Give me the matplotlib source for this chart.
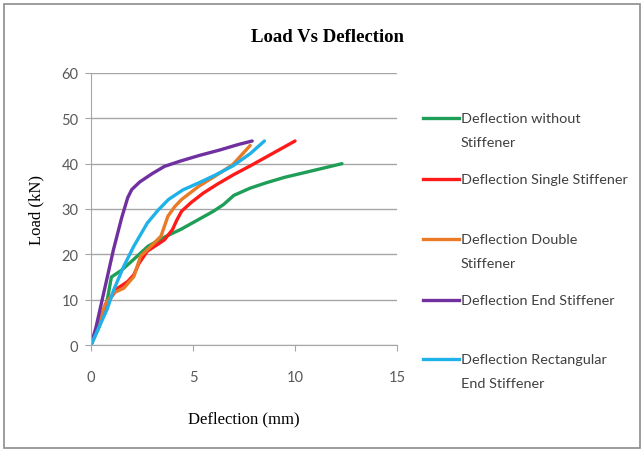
import numpy as np
import matplotlib
matplotlib.use("Agg")
import matplotlib.pyplot as plt
from matplotlib.lines import Line2D
from matplotlib.patches import Rectangle

# Load (kN) vs deflection (mm)
x_none = [0, 0.4, 0.8, 1.0, 1.5, 2.0, 2.8, 3.6, 4.4, 5.2, 6.0, 6.5, 7.0, 7.8, 8.6, 9.5, 11.0, 12.3]
y_none = [0, 4, 10, 15, 16.5, 18.5, 21.8, 23.8, 25.5, 27.5, 29.5, 31, 33, 34.6, 35.8, 37.0, 38.6, 40]

x_single = [0, 0.4, 0.9, 1.3, 1.8, 2.1, 2.35, 2.76, 3.2, 3.6, 4.0, 4.2, 4.44, 4.9, 5.5, 6.2, 7.0, 7.8, 8.8, 10.0]
y_single = [0, 5, 10, 12.5, 14, 15.5, 18, 20.7, 22, 23.2, 25.5, 27.5, 29.5, 31.4, 33.5, 35.5, 37.6, 39.5, 42.0, 45]

x_double = [0, 0.3, 0.7, 1.1, 1.6, 2.1, 2.43, 2.76, 3.1, 3.43, 3.77, 4.1, 4.44, 5.28, 6.1, 6.95, 7.8]
y_double = [0, 4, 9, 11.5, 12.5, 15.1, 19.6, 21, 22.5, 24, 28.4, 30.5, 32.1, 35, 37.3, 39.8, 44]

x_end = [0, 0.25, 0.6, 1.1, 1.5, 1.8, 2.0, 2.4, 3.0, 3.6, 4.4, 5.3, 6.3, 7.2, 7.9]
y_end = [0, 4, 11, 21, 28, 32.5, 34.3, 36.0, 37.8, 39.4, 40.6, 41.8, 43.0, 44.2, 45]

x_rect = [0, 0.4, 0.8, 1.1, 1.6, 2.1, 2.76, 3.3, 3.8, 4.5, 5.3, 6.1, 6.95, 7.8, 8.5]
y_rect = [0, 4, 8, 12, 17.3, 21.8, 26.9, 29.8, 32.1, 34.2, 35.8, 37.5, 39.5, 42.2, 45]

labels = [
    ["Deflection without", "Stiffener"],
    ["Deflection Single Stiffener"],
    ["Deflection Double", "Stiffener"],
    ["Deflection End Stiffener"],
    ["Deflection Rectangular", "End Stiffener"],
]
colors = ["#1f9e57", "#ff1a1a", "#ea7a26", "#7030a0", "#1eb2e8"]
xs_all = [x_none, x_single, x_double, x_end, x_rect]
ys_all = [y_none, y_single, y_double, y_end, y_rect]

W, H = 643, 452
fig = plt.figure(figsize=(W / 100, H / 100), dpi=100)
ax = fig.add_axes([0.1415, 0.2345, 0.476, 0.6018])

for xs, ys, lab, col in zip(xs_all, ys_all, labels, colors):
    ax.plot(xs, ys, color=col, lw=2.4, label=" ".join(lab), solid_capstyle="round")

ax.set_xlim(0, 15)
ax.set_ylim(0, 60)
ax.set_xticks([0, 5, 10, 15])
ax.set_yticks(np.arange(0, 61, 10))
ax.yaxis.grid(True, color="#a6a6a6", lw=1)
ax.set_axisbelow(True)
for s in ["top", "right"]:
    ax.spines[s].set_visible(False)
for s in ["left", "bottom"]:
    ax.spines[s].set_color("#a6a6a6")
ax.tick_params(colors="#a6a6a6", labelcolor="#595959", labelsize=10.5, length=4)
for t in ax.get_xticklabels() + ax.get_yticklabels():
    t.set_family("Lato")
ax.tick_params(axis="x", pad=14)
ax.tick_params(axis="y", pad=5)

serif = "Liberation Serif"
ax.set_xlabel("Deflection (mm)", family=serif, fontsize=12, labelpad=19)
ax.set_ylabel("Load (kN)", family=serif, fontsize=12, labelpad=12)
fig.text(0.51, 0.918, "Load Vs Deflection", family=serif, fontsize=13.5,
         fontweight="bold", ha="center", va="center")

# legend drawn by hand to follow the uneven Excel spacing
leg_rows = [119, 180, 240, 301, 360]   # pixel row of each entry's first line
line_gap = 24
for row, lab, col in zip(leg_rows, labels, colors):
    y = 1 - row / H
    fig.add_artist(Line2D([423 / W, 459 / W], [y, y], transform=fig.transFigure,
                          color=col, lw=2.4))
    for i, txt in enumerate(lab):
        fig.text(461 / W, 1 - (row + i * line_gap) / H, txt, family="Lato",
                 fontsize=10.4, color="#404040", ha="left", va="center")

fig.add_artist(Rectangle((0.006, 0.007), 0.99, 0.983, transform=fig.transFigure,
                         fill=False, edgecolor="#8c8c8c", lw=1.2))

fig.savefig("out.png", dpi=100)
